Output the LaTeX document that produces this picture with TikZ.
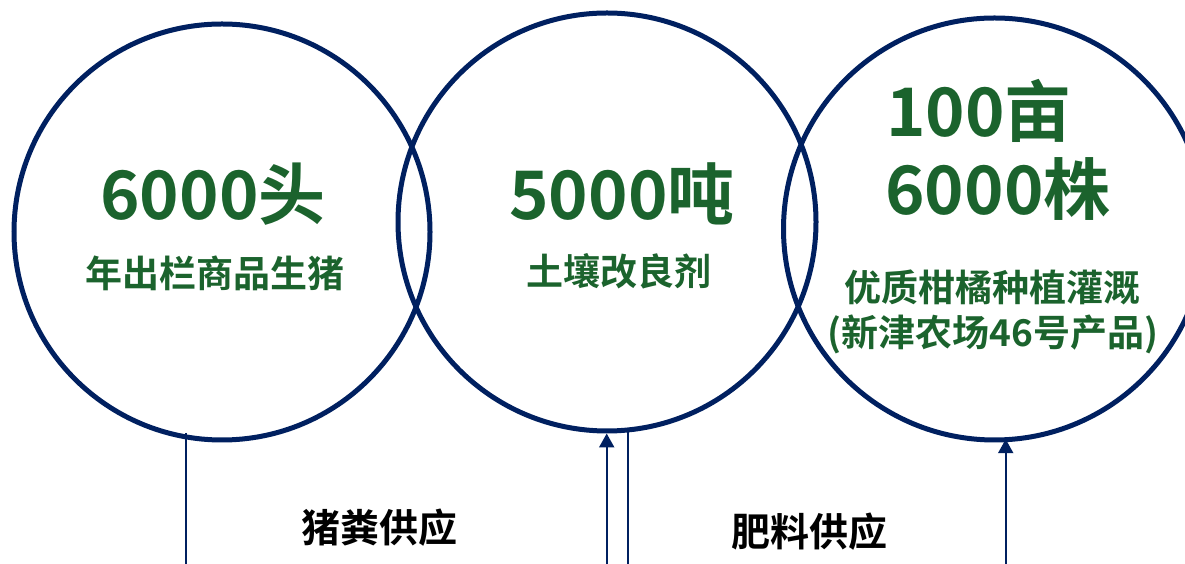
\documentclass[tikz,border=0pt]{standalone}
\usepackage{fontspec}
\setmainfont{Noto Sans CJK SC}[BoldFont={Noto Sans CJK SC Bold}]
\usepackage{xcolor}
\usetikzlibrary{arrows.meta}
\definecolor{navy}{HTML}{002060}
\definecolor{leaf}{HTML}{1B632D}

\begin{document}
\begin{tikzpicture}[x=1pt, y=1pt,
        ring/.style={circle, draw=navy, line width=5pt, inner sep=0pt},
        count/.style={anchor=base, inner sep=0pt, text=leaf, font=\fontsize{67}{67}\selectfont\bfseries},
        note/.style={anchor=base, inner sep=0pt, text=leaf, font=\fontsize{37}{37}\selectfont\bfseries},
        flow/.style={anchor=base, inner sep=0pt, text=black, font=\fontsize{39}{39}\selectfont\bfseries},
        feed/.style={draw=navy, line width=2.2pt},
        supply/.style={feed, -{Triangle[width=15pt, length=14pt]}}]
        \useasboundingbox (0, 0) rectangle (1185, 564);

        % the three circles
        \node[ring, minimum size=416pt] (pig) at (222, 332) {};
        \node[ring, minimum size=418pt] (soil) at (607, 342) {};
        \node[ring, minimum size=422pt] (citrus) at (994.5, 335) {};

        % texts in the circles
        \node[count] (pigcount) at (213, 344) {6000头};
        \node[note] (pignote) at (215, 276) {年出栏商品生猪};
        \node[count] (soilcount) at (622, 344) {5000吨};
        \node[note] (soilnote) at (619, 278) {土壤改良剂};
        \node[count] (acres) at (979, 427) {100亩};
        \node[count] (trees) at (998, 349) {6000株};
        \node[note] (citrusnote) at (992, 262) {优质柑橘种植灌溉};
        \node[note] (citrussource) at (993, 217) {(新津农场46号产品)};

        % supply labels
        \node[flow] (manure) at (379, 21) {猪粪供应};
        \node[flow] (fertilizer) at (809, 17) {肥料供应};

        % lines leaving the picture at the bottom
        \coordinate (pigfoot) at (186, 0);
        \coordinate (soilin) at (606.7, 0);
        \coordinate (soilfoot) at (627.7, 0);
        \coordinate (citrusin) at (1005.7, 0);

        \draw[feed, shorten <=-7pt] (pig.-99.9 -| pigfoot) -- (pigfoot);
        \draw[supply] (soilin) -- (soilin |- soil.south);
        \draw[feed] (soil.-84.3 -| soilfoot) -- (soilfoot);
        \draw[supply, shorten >=-3pt] (citrusin) -- (citrus.-87 -| citrusin);
\end{tikzpicture}
\end{document}
